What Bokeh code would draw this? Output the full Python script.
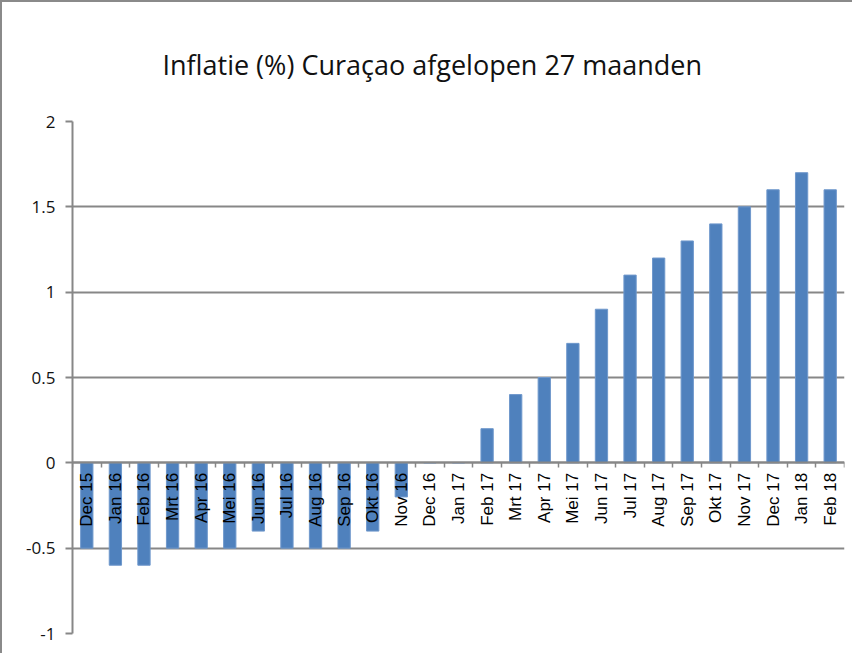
from bokeh.plotting import figure
from bokeh.models import Range1d, FixedTicker, LinearAxis
from bokeh.embed import file_html
from bokeh.resources import INLINE
import numpy as np

months = ["Dec 15", "Jan 16", "Feb 16", "Mrt 16", "Apr 16", "Mei 16", "Jun 16",
          "Jul 16", "Aug 16", "Sep 16", "Okt 16", "Nov 16", "Dec 16", "Jan 17",
          "Feb 17", "Mrt 17", "Apr 17", "Mei 17", "Jun 17", "Jul 17", "Aug 17",
          "Sep 17", "Okt 17", "Nov 17", "Dec 17", "Jan 18", "Feb 18"]
inflation = [-0.5, -0.6, -0.6, -0.5, -0.5, -0.5, -0.4, -0.5, -0.5, -0.5, -0.4, -0.2,
             0.0, 0.0, 0.2, 0.4, 0.5, 0.7, 0.9, 1.1, 1.2, 1.3, 1.4, 1.5, 1.6, 1.7, 1.6]
y_ticks = [-1, -0.5, 0, 0.5, 1, 1.5, 2]
y_tick_labels = ["-1", "-0.5", "0", "0.5", "1", "1.5", "2"]

n = len(months)
centers = [i + 0.5 for i in range(n)]
bounds = list(range(n + 1))

GRAY = "#878787"
BLUE = "#4F81BD"

p = figure(width=852, height=653, x_range=Range1d(0, n), y_range=Range1d(-1, 2),
           output_backend="svg", toolbar_location=None, x_axis_location=None,
           min_border_left=70, min_border_right=10, min_border_top=119, min_border_bottom=22,
           title="Inflatie (%) Curaçao afgelopen 27 maanden")
p.styles = {"border-left": "2px solid #8a8a8a", "border-top": "2px solid #8a8a8a"}
p.outline_line_color = None
p.background_fill_color = "white"
p.border_fill_color = "white"

p.title.text_font = "Open Sans"
p.title.text_font_size = "27px"
p.title.text_font_style = "normal"
p.title.text_color = "#111111"
p.title.align = "left"
p.title.offset = 90
p.title.standoff = 78

p.vbar(x=centers, top=inflation, bottom=0, width=0.43,
       fill_color=BLUE, line_color="#6f98cc", line_width=1)

# y axis
yax = p.yaxis[0]
yax.ticker = FixedTicker(ticks=y_ticks)
yax.major_label_overrides = {t: l for t, l in zip(y_ticks, y_tick_labels)}
yax.axis_line_color = GRAY
yax.axis_line_width = 2
yax.major_tick_line_color = GRAY
yax.major_tick_line_width = 2
yax.major_tick_out = 7
yax.major_tick_in = 0
yax.minor_tick_line_color = None
yax.major_label_text_font = "Open Sans"
yax.major_label_text_font_size = "17px"
yax.major_label_text_color = "#111111"
yax.major_label_standoff = 10

p.ygrid.ticker = FixedTicker(ticks=y_ticks)
p.ygrid.grid_line_color = GRAY
p.ygrid.grid_line_width = 2
p.xgrid.grid_line_color = None

# x axis with tick marks between categories
xax_ticks = LinearAxis(ticker=FixedTicker(ticks=bounds), fixed_location=0)
xax_ticks.axis_line_color = GRAY
xax_ticks.axis_line_width = 2
xax_ticks.major_tick_line_color = GRAY
xax_ticks.major_tick_line_width = 1.5
xax_ticks.major_tick_out = 5
xax_ticks.major_tick_in = 0
xax_ticks.minor_tick_line_color = None
xax_ticks.major_label_overrides = {b: "" for b in bounds}
p.add_layout(xax_ticks, "below")

# x axis labels at category centres
xax_lab = LinearAxis(ticker=FixedTicker(ticks=centers), fixed_location=0)
xax_lab.axis_line_color = None
xax_lab.major_tick_line_color = None
xax_lab.major_tick_out = 0
xax_lab.major_tick_in = 0
xax_lab.minor_tick_line_color = None
xax_lab.major_label_overrides = {c: m for c, m in zip(centers, months)}
xax_lab.major_label_orientation = np.pi / 2
xax_lab.major_label_text_font = "Liberation Sans"
xax_lab.major_label_text_font_size = "17px"
xax_lab.major_label_text_color = "#000000"
xax_lab.major_label_standoff = 10
p.add_layout(xax_lab, "below")

open("out.html", "w").write(file_html(p, INLINE))
